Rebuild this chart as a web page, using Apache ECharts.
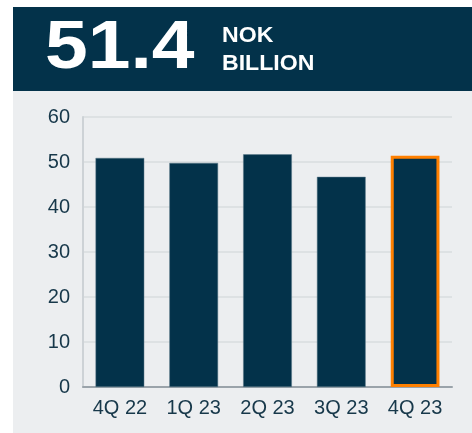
<!DOCTYPE html>
<html>
<head>
<meta charset="utf-8">
<script src="https://cdn.jsdelivr.net/npm/echarts@6/dist/echarts.min.js"></script>
<style>
html, body { margin: 0; padding: 0; background: #ffffff; }
#main { width: 472px; height: 433px; }
</style>
</head>
<body>
<div id="main"></div>
<script>
var quarters = ['4Q 22', '1Q 23', '2Q 23', '3Q 23', '4Q 23'];
var values = [50.9, 49.8, 51.7, 46.7, 51.4];
var yTicks = [0, 10, 20, 30, 40, 50, 60];
var headline = '51.4';
var unitLines = ['NOK', 'BILLION'];

var navy = '#03324a';
var chart = echarts.init(document.getElementById('main'));

var barData = values.map(function (v, i) {
    if (i === values.length - 1) {
        return {
            value: v,
            itemStyle: { color: navy, borderColor: '#ff8000', borderWidth: 3 }
        };
    }
    return v;
});

var option = {
    backgroundColor: '#ffffff',
    graphic: [
        { type: 'rect', shape: { x: 13, y: 91, width: 459, height: 342 }, style: { fill: '#eceef0' }, z: -10 },
        { type: 'rect', shape: { x: 13, y: 7, width: 459, height: 84 }, style: { fill: navy }, z: 0 },
        {
            type: 'text', x: 45, y: 15, scaleX: 1.13,
            style: { text: headline, fill: '#ffffff', font: 'bold 68px "Liberation Sans", Arial, sans-serif' }
        },
        {
            type: 'text', x: 222, y: 22, scaleX: 1.05,
            style: { text: unitLines.join('\n'), fill: '#ffffff', lineHeight: 28, font: 'bold 22px "Liberation Sans", Arial, sans-serif' }
        }
    ],
    grid: { left: 83, right: 20, top: 117, bottom: 46 },
    xAxis: {
        type: 'category',
        data: quarters,
        axisTick: { show: false },
        axisLine: { lineStyle: { color: '#9aa3aa', width: 2 } },
        axisLabel: { color: '#17384a', fontSize: 20, margin: 11, fontFamily: '"Liberation Sans", Arial, sans-serif' }
    },
    yAxis: {
        type: 'value',
        min: yTicks[0],
        max: yTicks[yTicks.length - 1],
        interval: 10,
        axisLine: { show: true, lineStyle: { color: '#cdd2d6', width: 2 } },
        axisTick: { show: false },
        splitLine: { lineStyle: { color: '#d9dcdf', width: 1.5 } },
        axisLabel: { color: '#17384a', fontSize: 20, margin: 13, fontFamily: '"Liberation Sans", Arial, sans-serif' }
    },
    series: [{
        type: 'bar',
        data: barData,
        barWidth: '66%',
        itemStyle: { color: navy, borderColor: '#5d7a8a', borderWidth: 0.5 }
    }]
};

chart.setOption(option);
</script>
</body>
</html>
